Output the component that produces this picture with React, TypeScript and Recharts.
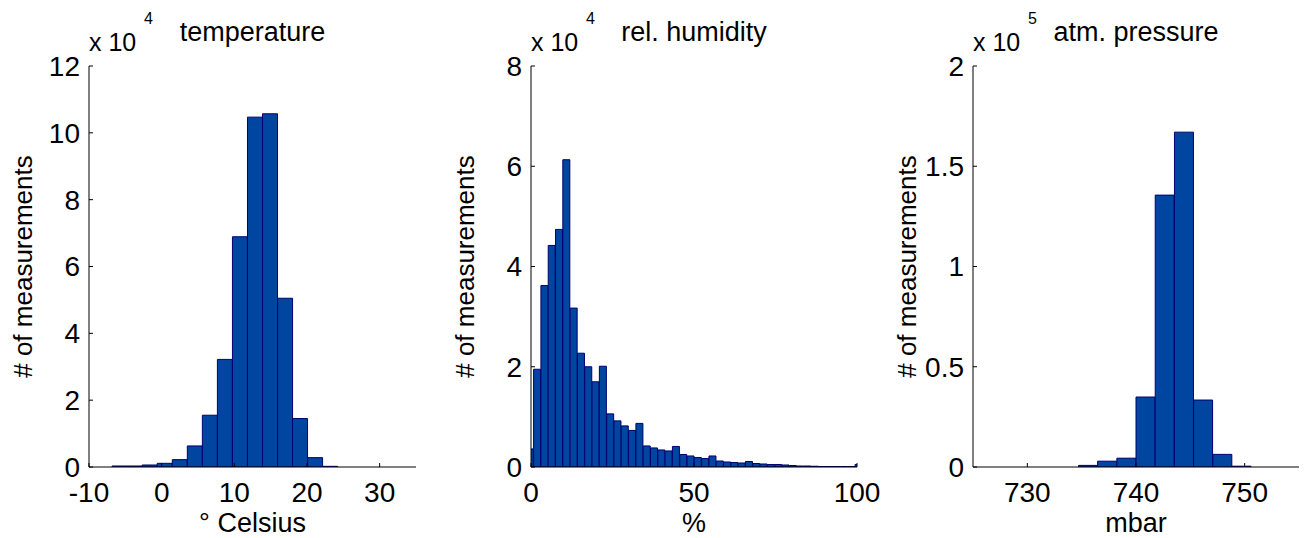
import { BarChart, Bar, XAxis, YAxis } from "recharts";

// temperature histogram (bin centres in °C, counts)
const tempCenters = [-5.79, -3.72, -1.65, 0.42, 2.49, 4.56, 6.63, 8.7, 10.77, 12.84, 14.91, 16.98, 19.04, 21.11, 23.18];
const tempCounts = [300, 300, 600, 1100, 2200, 6300, 15500, 32200, 68900, 104700, 105700, 50500, 14500, 2800, 200];
const tempXTicks = [-10, 0, 10, 20, 30];
const tempYTicks = [0, 20000, 40000, 60000, 80000, 100000, 120000];

// relative humidity histogram (bin centres in %, counts)
const humCenters = [
  -0.32, 1.92, 4.16, 6.4, 8.64, 10.88, 13.13, 15.37, 17.61, 19.85, 22.09, 24.33, 26.57, 28.81, 31.05, 33.3,
  35.54, 37.78, 40.02, 42.26, 44.5, 46.74, 48.98, 51.22, 53.47, 55.71, 57.95, 60.19, 62.43, 64.67, 66.91,
  69.15, 71.39, 73.64, 75.88, 78.12, 80.36, 82.6, 84.84, 87.08, 89.32, 91.56, 93.81, 96.05, 98.29, 100.53,
];
const humCounts = [
  3600, 19500, 36200, 44200, 47400, 61300, 31700, 22700, 20000, 17000, 20100, 10600, 9200, 8200, 7300, 8700,
  4200, 3800, 3400, 3200, 4100, 2500, 2200, 1900, 1700, 2200, 1200, 1000, 900, 800, 1100,
  700, 600, 500, 500, 400, 300, 200, 200, 150, 100, 100, 100, 100, 100, 500,
];
const humXTicks = [0, 50, 100];
const humYTicks = [0, 20000, 40000, 60000, 80000];

// atmospheric pressure histogram (bin centres in mbar, counts)
const presCenters = [735.59, 737.35, 739.12, 740.88, 742.65, 744.42, 746.18, 747.95, 749.71];
const presCounts = [800, 2900, 4400, 34900, 135600, 167000, 33400, 6300, 400];
const presXTicks = [730, 740, 750];
const presYTicks = [0, 50000, 100000, 150000, 200000];

const FONT = '"Liberation Sans", Arial, sans-serif';
const FILL = "#00459f";
const EDGE = "#000070";
const PLOT_LEFT = 89;
const PLOT_TOP = 66;
const CHART_H = 538;
const PLOT_BOTTOM = 467;
const RIGHT_PAD = 30;

function toRows(xs: number[], counts: number[]) {
  return xs.map((x, i) => ({ x, count: counts[i] }));
}

type PanelProps = {
  left: number;
  plotWidth: number;
  centers: number[];
  counts: number[];
  xDomain: [number, number];
  xTicks: number[];
  yDomain: [number, number];
  yTicks: number[];
  exp: number;
  title: string;
  xLabel: string;
};

function Panel(p: PanelProps) {
  const unit = Math.pow(10, p.exp);
  const data = toRows(p.centers, p.counts);
  const tickStyle = { fontSize: 28, fill: "#000", fontFamily: FONT };
  return (
    <div style={{ position: "absolute", left: p.left, top: 0 }}>
      <BarChart
        width={PLOT_LEFT + p.plotWidth + RIGHT_PAD}
        height={CHART_H}
        data={data}
        margin={{ top: PLOT_TOP, right: RIGHT_PAD, bottom: 0, left: 0 }}
        barCategoryGap={0}
        barGap={0}
      >
        <XAxis
          dataKey="x"
          type="number"
          domain={p.xDomain}
          ticks={p.xTicks}
          allowDataOverflow
          interval={0}
          height={CHART_H - PLOT_BOTTOM}
          tickSize={-4}
          tickMargin={19}
          stroke="#000"
          tick={tickStyle}
          label={{ value: p.xLabel, position: "insideBottom", offset: 6, fontSize: 27, fill: "#000", fontFamily: FONT }}
        />
        <XAxis
          xAxisId="top"
          orientation="top"
          type="number"
          domain={p.xDomain}
          ticks={p.xTicks}
          allowDataOverflow
          interval={0}
          height={0}
          tickSize={-4}
          tick={false}
          stroke="#000"
        />
        <YAxis
          type="number"
          domain={p.yDomain}
          ticks={p.yTicks}
          allowDataOverflow
          interval={0}
          width={PLOT_LEFT}
          tickSize={-4}
          tickMargin={13}
          stroke="#000"
          tick={tickStyle}
          tickFormatter={(v: number) => String(Math.round((v / unit) * 100) / 100)}
          label={{
            value: "# of measurements",
            angle: -90,
            position: "insideLeft",
            offset: 23,
            fontSize: 26,
            fill: "#000",
            fontFamily: FONT,
            style: { textAnchor: "middle" },
          }}
        />
        <YAxis
          yAxisId="right"
          orientation="right"
          type="number"
          domain={p.yDomain}
          ticks={p.yTicks}
          allowDataOverflow
          interval={0}
          width={0}
          tickSize={-4}
          tick={false}
          stroke="#000"
        />
        <Bar dataKey="count" fill={FILL} stroke={EDGE} strokeWidth={1} isAnimationActive={false} />
      </BarChart>
      <div
        style={{
          position: "absolute",
          left: PLOT_LEFT,
          width: p.plotWidth,
          top: 19,
          textAlign: "center",
          fontFamily: FONT,
          fontSize: 27,
          lineHeight: 1,
          color: "#000",
          whiteSpace: "nowrap",
        }}
      >
        {p.title}
      </div>
      <div
        style={{
          position: "absolute",
          left: PLOT_LEFT,
          top: 30,
          fontFamily: FONT,
          fontSize: 25,
          lineHeight: 1,
          color: "#000",
          whiteSpace: "nowrap",
        }}
      >
        x 10
      </div>
      <div
        style={{
          position: "absolute",
          left: PLOT_LEFT + 55,
          top: 11,
          fontFamily: FONT,
          fontSize: 16,
          lineHeight: 1,
          color: "#000",
        }}
      >
        {p.exp}
      </div>
    </div>
  );
}

export default function App() {
  return (
    <div style={{ position: "absolute", left: 0, top: 0, width: 1305, height: 538, background: "#fff", overflow: "hidden" }}>
      <Panel
        left={0}
        plotWidth={327}
        centers={tempCenters}
        counts={tempCounts}
        xDomain={[-10, 35]}
        xTicks={tempXTicks}
        yDomain={[0, 120000]}
        yTicks={tempYTicks}
        exp={4}
        title="temperature"
        xLabel="° Celsius"
      />
      <Panel
        left={442}
        plotWidth={326}
        centers={humCenters}
        counts={humCounts}
        xDomain={[0, 100]}
        xTicks={humXTicks}
        yDomain={[0, 80000]}
        yTicks={humYTicks}
        exp={4}
        title="rel. humidity"
        xLabel="%"
      />
      <Panel
        left={884}
        plotWidth={326}
        centers={presCenters}
        counts={presCounts}
        xDomain={[725, 755]}
        xTicks={presXTicks}
        yDomain={[0, 200000]}
        yTicks={presYTicks}
        exp={5}
        title="atm. pressure"
        xLabel="mbar"
      />
    </div>
  );
}
